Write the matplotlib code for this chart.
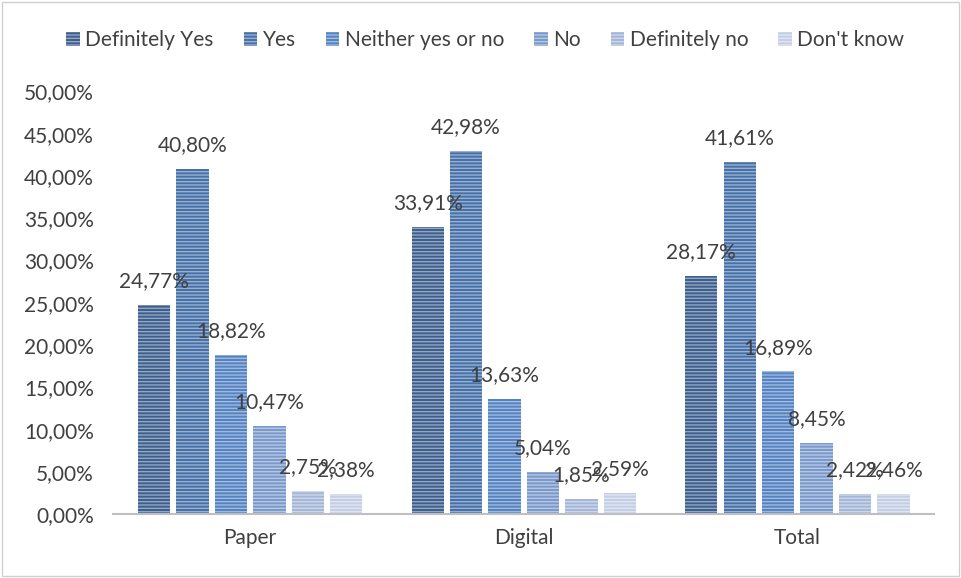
import matplotlib.pyplot as plt
import matplotlib.patches as mpatches
import numpy as np

plt.rcParams['font.family'] = ['Lato', 'DejaVu Sans']

groups = ["Paper", "Digital", "Total"]
series = ["Definitely Yes", "Yes", "Neither yes or no", "No", "Definitely no", "Don't know"]
definitely_yes = [24.77, 33.91, 28.17]
yes = [40.80, 42.98, 41.61]
neither = [18.82, 13.63, 16.89]
no = [10.47, 5.04, 8.45]
definitely_no = [2.75, 1.85, 2.42]
dont_know = [2.38, 2.59, 2.46]
values = [definitely_yes, yes, neither, no, definitely_no, dont_know]

colors = ["#3d5f8e", "#4670a8", "#5482c2", "#7a99cb", "#a4b6d8", "#c4cfe5"]


def lighten(hex_color, amount):
    rgb = np.array([int(hex_color[i:i + 2], 16) for i in (1, 3, 5)]) / 255.0
    return tuple(rgb + (1 - rgb) * amount)


def fmt(v):
    return f"{v:.2f}".replace(".", ",") + "%"


fs = 15
plt.rcParams['hatch.linewidth'] = 1.0
fig = plt.figure(figsize=(9.61, 5.78), dpi=100)
ax = fig.add_axes([0.118, 0.11, 0.854, 0.732])

x = np.arange(len(groups))
width = 0.118
step = 0.1405
for i, (name, vals) in enumerate(zip(series, values)):
    pos = x + (i - 2.5) * step
    ax.bar(pos, vals, width, color=colors[i], edgecolor=lighten(colors[i], 0.45),
           linewidth=0, hatch='-----', label=name)
    for p, v in zip(pos, vals):
        ax.annotate(fmt(v), (p, v), xytext=(0, 10), textcoords='offset points',
                    ha='center', va='bottom', fontsize=fs, color='#404040')

ax.set_ylim(0, 50)
ax.set_xlim(-0.5, 2.5)
ax.set_yticks(np.arange(0, 51, 5))
ax.set_yticklabels([fmt(t) for t in np.arange(0, 51, 5)])
ax.set_xticks(x)
ax.set_xticklabels(groups)
ax.tick_params(axis='both', length=0, labelsize=fs, colors='#404040')
ax.tick_params(axis='x', pad=10)
ax.tick_params(axis='y', pad=14)
for s in ['top', 'right', 'left']:
    ax.spines[s].set_visible(False)
ax.spines['bottom'].set_color('#bfbfbf')
ax.spines['bottom'].set_linewidth(1.5)

handles = [mpatches.Patch(facecolor=c, edgecolor=lighten(c, 0.45), linewidth=0, hatch='-----')
           for c in colors]
fig.legend(handles, series, loc='upper center', bbox_to_anchor=(0.505, 0.98), ncol=6,
           frameon=False, fontsize=fs, handlelength=0.65, handleheight=0.7,
           handletextpad=0.25, columnspacing=1.45, labelcolor='#404040')

fig.patches.append(mpatches.Rectangle((0.002, 0.003), 0.996, 0.994, transform=fig.transFigure,
                                      fill=False, edgecolor='#d0d0d0', linewidth=1))

fig.savefig("out.png", dpi=100)
